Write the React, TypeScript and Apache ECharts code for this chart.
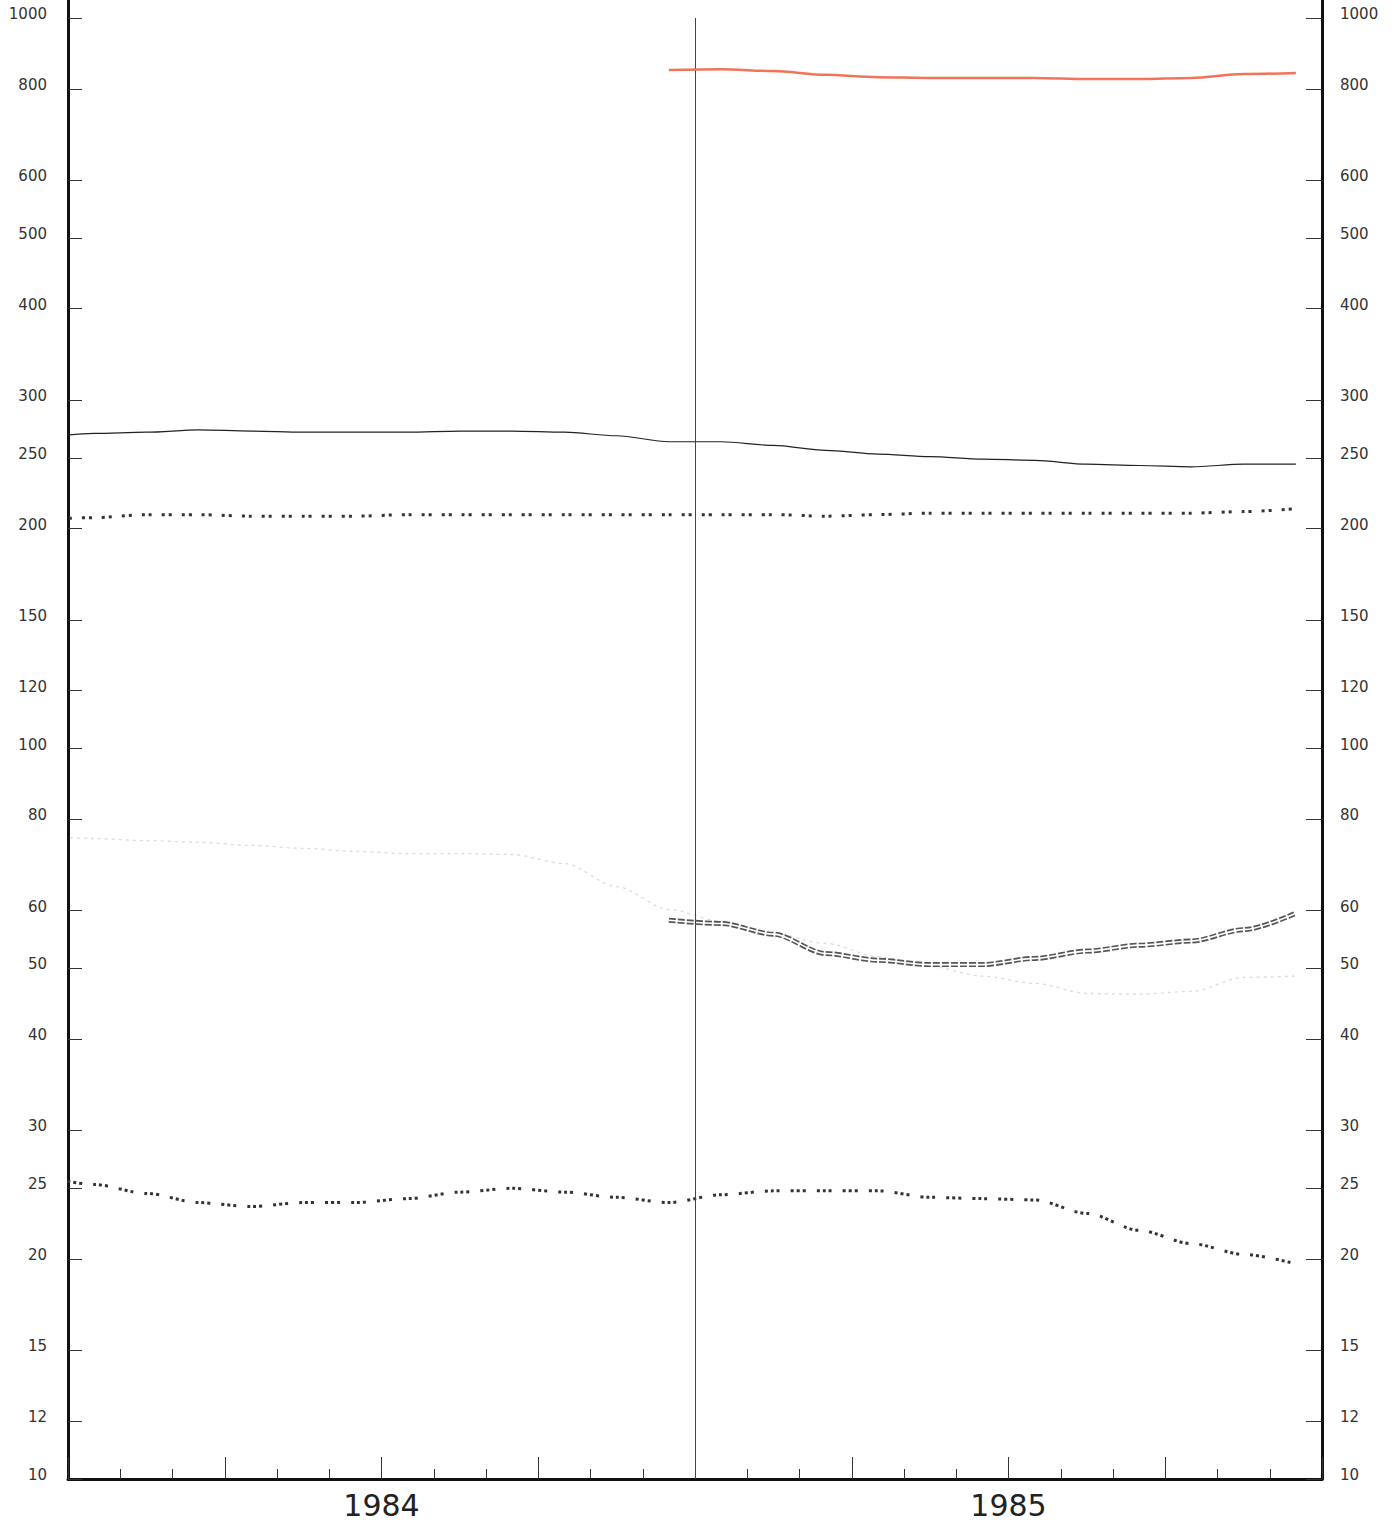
import React, { useEffect, useRef } from "react";
import * as echarts from "echarts";

// Months from Dec 1983 (clipped at the left axis) to Dec 1985, plotted at mid-month
const months = [
  "1983-12",
  "1984-01", "1984-02", "1984-03", "1984-04", "1984-05", "1984-06",
  "1984-07", "1984-08", "1984-09", "1984-10", "1984-11", "1984-12",
  "1985-01", "1985-02", "1985-03", "1985-04", "1985-05", "1985-06",
  "1985-07", "1985-08", "1985-09", "1985-10", "1985-11", "1985-12",
];

const redSeries = [
  null, null, null, null, null, null, null, null, null, null, null, null,
  849, 851, 846, 836, 830, 828, 828, 828, 825, 825, 828, 838, 841,
];
const solidSeries = [
  266, 270, 271, 273, 272, 271, 271, 271, 272, 272, 271, 268, 263,
  263, 260, 256, 253, 251, 249, 248, 245, 244, 243, 245, 245,
];
const upperDottedSeries = [
  206, 207, 209, 209, 208, 208, 208, 209, 209, 209, 209, 209, 209,
  209, 209, 208, 209, 210, 210, 210, 210, 210, 210, 211, 213,
];
const faintSeries = [
  75.8, 75.3, 74.8, 74.4, 73.7, 73.0, 72.3, 71.8, 71.8, 71.6, 69.6, 64.7, 60.2,
  58.0, 55.8, 54.1, 51.9, 50.3, 48.8, 47.7, 46.2, 46.1, 46.5, 48.6, 48.8,
];
const doubleSeries = [
  null, null, null, null, null, null, null, null, null, null, null, null,
  58.2, 57.6, 55.7, 52.4, 51.3, 50.6, 50.6, 51.6, 52.8, 53.8, 54.5, 56.5, 59.5,
];
const lowerDottedSeries = [
  26.0, 25.3, 24.6, 23.9, 23.6, 23.9, 23.9, 24.2, 24.7, 25.0, 24.7, 24.3, 23.9,
  24.5, 24.8, 24.8, 24.8, 24.3, 24.2, 24.1, 23.1, 21.9, 21.0, 20.3, 19.7,
];

const yTicks = [10, 12, 15, 20, 25, 30, 40, 50, 60, 80, 100, 120, 150, 200, 250, 300, 400, 500, 600, 800, 1000];
const yearLabels = ["1984", "1985"];
const yearCenters = [6, 18]; // month position of each year's middle
const yearStart1985 = 12;

const toData = (vals: (number | null)[]) =>
  vals
    .map((v, i) => (v == null ? null : [i - 0.5, Math.log10(v)]))
    .filter((p) => p !== null) as number[][];

export default function App() {
  const ref = useRef<HTMLDivElement>(null);
  useEffect(() => {
    if (!ref.current) return;
    const chart = echarts.init(ref.current, null, { renderer: "svg" });
    const logTicks = yTicks.map((t) => Math.log10(t));
    const yFmt = (v: number) => String(Math.round(Math.pow(10, v)));
    const yAxisBase = (position: "left" | "right", tickLen: number, margin: number) => ({
      type: "value",
      position,
      min: 1,
      max: 3 + 18 / 730,
      axisLine: { show: true, onZero: false, lineStyle: { color: "#111", width: 3 } },
      axisTick: {
        show: true,
        inside: true,
        length: tickLen,
        customValues: logTicks,
        lineStyle: { color: "#333", width: 1 },
      },
      axisLabel: {
        show: true,
        customValues: logTicks,
        formatter: yFmt,
        margin,
        color: "#333",
        fontSize: 15,
        fontFamily: "DejaVu Sans",
        verticalAlign: "bottom",
        lineHeight: 8,
      },
      splitLine: { show: false },
    });
    const smoothOpts = { showSymbol: false, smooth: 0.3, smoothMonotone: "x" };
    const series: any[] = [
      {
        name: "red",
        type: "line",
        data: toData(redSeries),
        ...smoothOpts,
        lineStyle: { color: "#f2735a", width: 2.5 },
        z: 5,
      },
      {
        name: "solid",
        type: "line",
        data: toData(solidSeries),
        ...smoothOpts,
        lineStyle: { color: "#222", width: 1.2 },
        markLine: {
          silent: true,
          symbol: "none",
          label: { show: false },
          lineStyle: { color: "#444", width: 1, type: "solid" },
          data: [[{ coord: [yearStart1985, 1] }, { coord: [yearStart1985, 3] }]],
        },
      },
      {
        name: "upperDotted",
        type: "line",
        data: toData(upperDottedSeries),
        ...smoothOpts,
        lineStyle: { color: "#333", width: 3, type: [3, 4, 3, 10] },
      },
      {
        name: "faint",
        type: "line",
        data: toData(faintSeries),
        ...smoothOpts,
        lineStyle: { color: "#dcdcdc", width: 1.3, type: [3, 4] },
      },
      {
        name: "doubleOuter",
        type: "line",
        data: toData(doubleSeries),
        ...smoothOpts,
        lineStyle: { color: "#555", width: 5, type: [7, 2] },
        z: 3,
      },
      {
        name: "doubleInner",
        type: "line",
        data: toData(doubleSeries),
        ...smoothOpts,
        lineStyle: { color: "#fff", width: 1.6 },
        z: 4,
      },
      {
        name: "lowerDotted",
        type: "line",
        data: toData(lowerDottedSeries),
        ...smoothOpts,
        lineStyle: { color: "#333", width: 3, type: [3, 3, 3, 3, 3, 11] },
      },
    ];
    chart.setOption({
      animation: false,
      backgroundColor: "#fff",
      grid: { left: 68, right: 77, top: 0, bottom: 51, containLabel: false },
      xAxis: [
        {
          type: "value",
          min: 0,
          max: months.length - 1,
          interval: 1,
          position: "bottom",
          axisLine: { show: true, onZero: false, lineStyle: { color: "#111", width: 3 } },
          axisTick: { show: true, inside: true, length: 10, lineStyle: { color: "#333", width: 1 } },
          axisLabel: { show: false },
          splitLine: { show: false },
        },
        {
          type: "value",
          min: 0,
          max: months.length - 1,
          interval: 3,
          position: "bottom",
          axisLine: { show: false, onZero: false },
          axisTick: { show: true, inside: true, length: 22, lineStyle: { color: "#333", width: 1 } },
          axisLabel: {
            show: true,
            customValues: yearCenters,
            formatter: (v: number) => yearLabels[yearCenters.indexOf(Math.round(v))] ?? "",
            fontSize: 30,
            fontFamily: "DejaVu Sans",
            color: "#222",
            margin: 11,
          },
          splitLine: { show: false },
        },
      ],
      yAxis: [yAxisBase("left", 14, 21), yAxisBase("right", 16, 18)],
      series,
    });
    return () => chart.dispose();
  }, []);
  return (
    <div
      ref={ref}
      style={{ position: "absolute", left: 0, top: 0, width: 1399, height: 1530 }}
    />
  );
}
